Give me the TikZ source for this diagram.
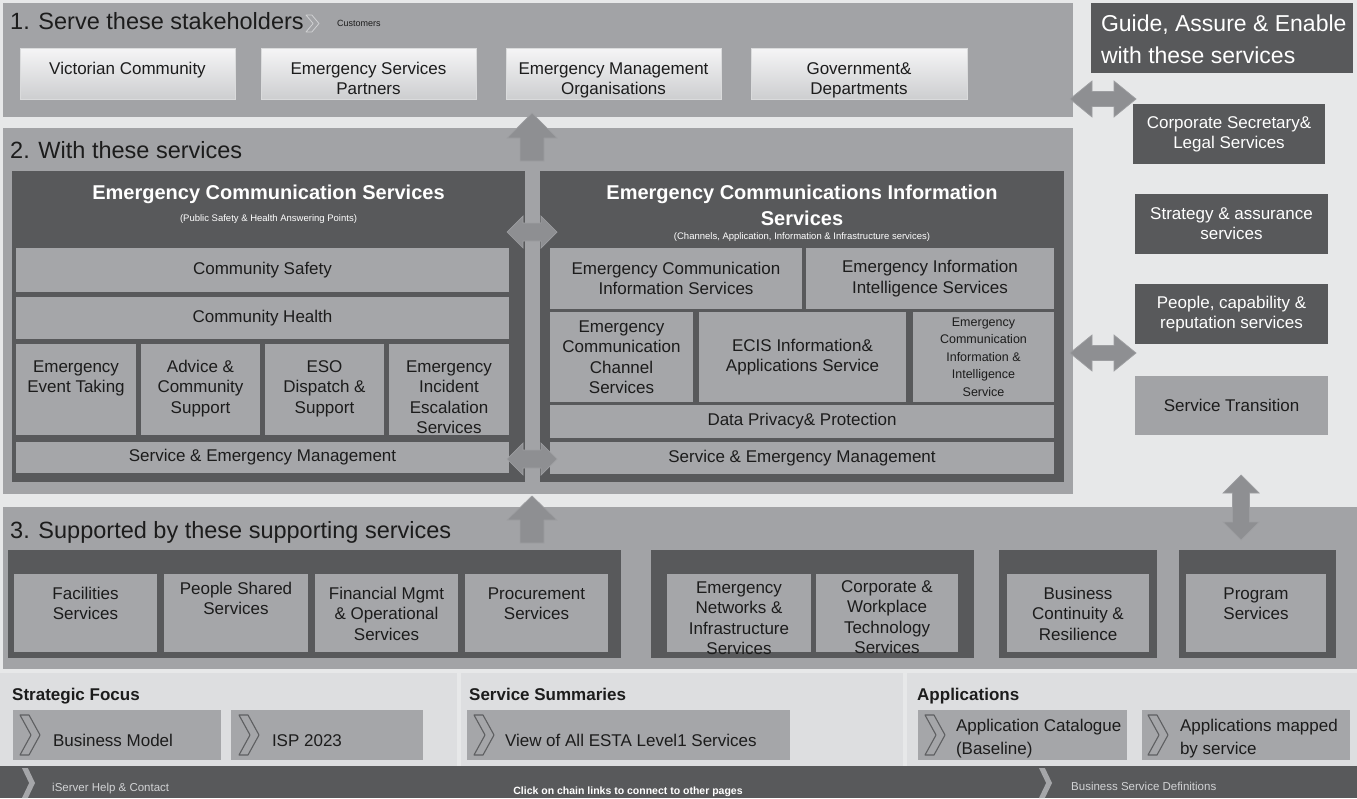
\documentclass[tikz,border=0pt]{standalone}
\usepackage{fontspec}
\setmainfont{Liberation Sans}
\definecolor{bg}{HTML}{E7E8E9}
\definecolor{sec}{HTML}{A2A3A6}
\definecolor{dk}{HTML}{58595B}
\definecolor{inn}{HTML}{A5A6A9}
\definecolor{arr}{HTML}{8E8F92}
\definecolor{arrE}{HTML}{9D9EA1}
\definecolor{band}{HTML}{DDDEE0}
\definecolor{txt}{HTML}{1C1C1C}
\definecolor{stkT}{HTML}{F5F5F6}
\definecolor{stkB}{HTML}{CDCED0}
\definecolor{stkE}{HTML}{DADBDC}
\definecolor{chevD}{HTML}{5E5F61}
\definecolor{chevL}{HTML}{D0D1D3}
\definecolor{ftxt}{HTML}{D2D3D5}
\newcommand\fs[2]{\fontsize{#1}{#2}\selectfont}
\newcommand\bxe[6]{%
  \pgfmathsetmacro\bxw{#5-#3}\pgfmathsetmacro\bxh{#6-#4}%
  \pgfmathsetmacro\bxx{(#3+#5)/2}\pgfmathsetmacro\bxy{(#4+#6)/2}%
  \node[inner sep=0pt,minimum width=\bxw pt,minimum height=\bxh pt,#1] (#2) at (\bxx,\bxy) {};}
\newcommand\bxc[7]{%
  \pgfmathsetmacro\bxw{#5-#3}\pgfmathsetmacro\bxh{#6-#4}%
  \pgfmathsetmacro\bxx{(#3+#5)/2}\pgfmathsetmacro\bxy{(#4+#6)/2}%
  \node[inner sep=0pt,#1] (#2) at (\bxx,\bxy) {\parbox[c][\bxh pt][c]{\bxw pt}{\centering #7}};}
\newcommand\bxt[8]{%
  \pgfmathsetmacro\bxw{#5-#3}\pgfmathsetmacro\bxh{#6-#4}%
  \pgfmathsetmacro\bxx{(#3+#5)/2}\pgfmathsetmacro\bxy{(#4+#6)/2}%
  \node[inner sep=0pt,#1] (#2) at (\bxx,\bxy) {\parbox[c][\bxh pt][t]{\bxw pt}{\centering\vspace*{#7pt}\strut #8}};}
\newcommand\bxl[9]{%
  \pgfmathsetmacro\bxw{#5-#3}\pgfmathsetmacro\bxh{#6-#4}%
  \pgfmathsetmacro\bxx{(#3+#5)/2}\pgfmathsetmacro\bxy{(#4+#6)/2}%
  \node[inner sep=0pt,#1] (#2) at (\bxx,\bxy) {\parbox[c][\bxh pt][t]{\bxw pt}{\raggedright\leftskip=#7pt\relax\vspace*{#8pt}\strut #9}};}
\newcommand\chev[5]{%
  \pgfmathsetmacro\cva{#2+0.45*#4}\pgfmathsetmacro\cvb{#2+#4}\pgfmathsetmacro\cvc{#3+#5/2}%
  \pgfmathsetmacro\cvd{#3+#5}\pgfmathsetmacro\cve{#2+0.55*#4}%
  \path[#1] (#2,#3) -- (\cva,#3) -- (\cvb,\cvc) -- (\cva,\cvd) -- (#2,\cvd) -- (\cve,\cvc) -- cycle;}
\tikzset{
  secfill/.style={fill=sec},
  dkfill/.style={fill=dk},
  bandfill/.style={fill=band},
  stk/.style={top color=stkT, bottom color=stkB, draw=stkE, line width=0.6pt, text=txt, font=\fs{17}{20.5}},
  ib/.style={fill=inn, text=txt, font=\fs{17}{20.5}},
  ibs/.style={fill=inn, text=txt, font=\fs{12.5}{17.5}},
  wb/.style={fill=dk, text=white, font=\fs{17}{20}},
  gb/.style={fill=sec, text=txt, font=\fs{17}{20}},
  lnk/.style={fill=inn, text=txt, font=\fs{17}{23}},
  guide/.style={fill=dk, text=white, font=\fs{23}{32}},
  sectitle/.style={anchor=base west, inner sep=0pt, text=txt, font=\fs{23.5}{27}},
  ptitle/.style={text=white, inner sep=0pt, font=\bfseries\fs{20}{26}, align=center},
  psub/.style={text=white, inner sep=0pt, font=\fs{9.5}{11}},
  bandhead/.style={anchor=base west, inner sep=0pt, text=txt, font=\bfseries\fs{17}{20}},
  foot/.style={anchor=base west, inner sep=0pt, text=ftxt, font=\fs{11.5}{13}},
  blk/.style={fill=arr, draw=arrE, line width=0.7pt, line join=miter},
  chevo/.style={draw=chevD, fill=inn, line width=1.1pt, line join=round},
  chevs/.style={draw=chevL, fill=sec, line width=0.8pt, line join=round},
  chevf/.style={fill=inn},
}
\begin{document}
\begin{tikzpicture}[x=1pt,y=-1pt]
\useasboundingbox (0,0) rectangle (1357,798);
\fill[bg] (0,0) rectangle (1357,798);
% ---------- section 1
\bxe{secfill}{s1}{3}{3}{1073}{117}
\node[sectitle] (t1) at (10,29.5) {1. Serve these stakeholders};
\chev{chevs}{306}{15}{13}{17}
\node[anchor=base west, inner sep=0pt, text=txt, font=\fs{9}{10}] (cust) at (337,26) {Customers};
\bxt{stk}{vc}{20}{48}{235}{99}{11.7}{Victorian Community}
\bxt{stk}{esp}{261}{48}{476}{99}{11.7}{Emergency Services\\Partners}
\bxt{stk}{emo}{506}{48}{721}{99}{11.7}{Emergency Management\\Organisations}
\bxt{stk}{gd}{751}{48}{967}{99}{11.7}{Government\&\\Departments}
% ---------- section 2
\bxe{secfill}{s2}{3}{128}{1073}{494}
\node[sectitle] (t2) at (10,158.5) {2. With these services};
\bxe{dkfill}{ecs}{12}{171}{525}{482}
\bxe{dkfill}{ecis}{540}{171}{1064}{482}
\node[ptitle] (ecsT) at (268.5,194) {Emergency Communication Services};
\node[psub] (ecsS) at (268.5,219) {(Public Safety \& Health Answering Points)};
\node[ptitle] (ecisT) at (802,205) {Emergency Communications Information\\Services};
\node[psub] (ecisS) at (802,237.5) {(Channels, Application, Information \& Infrastructure services)};
\bxc{ib}{cs}{16}{248}{509}{292}{Community Safety}
\bxc{ib}{ch}{16}{297}{509}{339}{Community Health}
\bxt{ib}{eet}{16}{344}{136}{435}{13.7}{Emergency\\Event Taking}
\bxt{ib}{acs}{141}{344}{260}{435}{13.7}{Advice \&\\Community\\Support}
\bxt{ib}{eso}{265}{344}{384}{435}{13.7}{ESO\\Dispatch \&\\Support}
\bxt{ib}{eie}{389}{344}{509}{435}{13.7}{Emergency\\Incident\\Escalation\\Services}
\bxc{ib}{seml}{16}{442}{509}{473}{Service \& Emergency Management}
\bxc{ib}{r1a}{550}{248}{802}{309}{Emergency Communication\\Information Services}
\bxc{ib}{r1b}{806}{248}{1054}{309}{Emergency Information\\Intelligence Services}
\bxc{ib}{r2a}{550}{312}{693}{402}{Emergency\\Communication\\Channel\\Services}
\bxc{ib}{r2b}{699}{312}{906}{402}{ECIS Information\&\\Applications Service}
\bxc{ibs}{r2c}{913}{312}{1054}{402}{Emergency\\Communication\\Information \&\\Intelligence\\Service}
\bxc{ib}{dpp}{550}{405}{1054}{438}{Data Privacy\& Protection}
\bxc{ib}{semr}{550}{442}{1054}{474}{Service \& Emergency Management}
% arrows in section 2
\path[blk] (532,113) -- (557,138) -- (544,138) -- (544,161) -- (520,161) -- (520,138) -- (507,138) -- cycle;
\path[blk] (507,232) -- (523,216) -- (523,223) -- (541,223) -- (541,216) -- (557,232) -- (541,248) -- (541,241) -- (523,241) -- (523,248) -- cycle;
\path[blk] (507,459) -- (523,443) -- (523,450) -- (541,450) -- (541,443) -- (557,459) -- (541,475) -- (541,468) -- (523,468) -- (523,475) -- cycle;
% ---------- right column
\bxl{guide}{gae}{1091}{3}{1353}{73}{10}{5.8}{Guide, Assure \& Enable\\with these services}
\bxc{wb}{csl}{1133}{104}{1325}{164}{Corporate Secretary\&\\Legal Services}
\bxc{wb}{sas}{1135}{194}{1328}{254}{Strategy \& assurance\\services}
\bxc{wb}{pcr}{1135}{284}{1328}{344}{People, capability \&\\reputation services}
\bxc{gb}{stn}{1135}{376}{1328}{435}{Service Transition}
\path[blk] (1070,99) -- (1092,81) -- (1092,91.5) -- (1114,91.5) -- (1114,81) -- (1136,99) -- (1114,117) -- (1114,106.5) -- (1092,106.5) -- (1092,117) -- cycle;
\path[blk] (1070,353) -- (1092,335) -- (1092,345.5) -- (1114,345.5) -- (1114,335) -- (1136,353) -- (1114,371) -- (1114,360.5) -- (1092,360.5) -- (1092,371) -- cycle;
% ---------- section 3
\bxe{secfill}{s3}{3}{507}{1357}{669}
\node[sectitle] (t3) at (10,538.5) {3. Supported by these supporting services};
\path[blk] (532,496) -- (557,520) -- (544,520) -- (544,543) -- (520,543) -- (520,520) -- (507,520) -- cycle;
\path[blk] (1241,475) -- (1259,493) -- (1249.5,493) -- (1249.5,522) -- (1259,522) -- (1241,540) -- (1223,522) -- (1232.5,522) -- (1232.5,493) -- (1223,493) -- cycle;
\bxe{dkfill}{ga}{8}{550}{621}{658}
\bxe{dkfill}{gbx}{651}{550}{974}{658}
\bxe{dkfill}{gc}{999}{550}{1157}{658}
\bxe{dkfill}{gdx}{1179}{550}{1336}{658}
\bxt{ib}{fac}{14}{574}{157}{652}{10.7}{Facilities\\Services}
\bxt{ib}{pss}{164}{574}{308}{652}{5.7}{People Shared\\Services}
\bxt{ib}{fmo}{315}{574}{458}{652}{10.7}{Financial Mgmt\\\& Operational\\Services}
\bxt{ib}{prc}{465}{574}{608}{652}{10.7}{Procurement\\Services}
\bxt{ib}{eni}{667}{574}{811}{652}{4.7}{Emergency\\Networks \&\\Infrastructure\\Services}
\bxt{ib}{cwt}{816}{574}{958}{652}{3.7}{Corporate \&\\Workplace\\Technology\\Services}
\bxt{ib}{bcr}{1007}{574}{1149}{652}{10.7}{Business\\Continuity \&\\Resilience}
\bxt{ib}{prg}{1186}{574}{1326}{652}{10.7}{Program\\Services}
% ---------- bottom band
\bxe{bandfill}{p1}{0}{673}{457}{766}
\bxe{bandfill}{p2}{461}{673}{903}{766}
\bxe{bandfill}{p3}{907}{673}{1357}{766}
\node[bandhead] (h1) at (12,700) {Strategic Focus};
\node[bandhead] (h2) at (469,700) {Service Summaries};
\node[bandhead] (h3) at (917,700) {Applications};
\bxl{lnk}{bm}{13}{710}{221}{760}{40}{19.9}{Business Model}
\bxl{lnk}{isp}{231}{710}{423}{760}{41}{19.9}{ISP 2023}
\bxl{lnk}{view}{467}{710}{790}{760}{38}{19.9}{View of All ESTA Level1 Services}
\bxl{lnk}{appc}{918}{710}{1127}{760}{38}{4.9}{Application Catalogue\\(Baseline)}
\bxl{lnk}{appm}{1142}{710}{1350}{760}{38}{4.9}{Applications mapped\\by service}
\chev{chevo}{20}{715}{20}{40}
\chev{chevo}{239}{715}{20}{40}
\chev{chevo}{474}{715}{20}{40}
\chev{chevo}{925}{715}{20}{40}
\chev{chevo}{1148}{715}{20}{40}
% ---------- footer
\bxe{dkfill}{ft}{0}{766}{1357}{798}
\chev{chevf}{22}{768}{13}{30}
\chev{chevf}{1039}{768}{13}{30}
\node[foot] (help) at (52,791) {iServer Help \& Contact};
\node[anchor=base, inner sep=0pt, text=white, font=\bfseries\fs{10.5}{12}] (click) at (628,794.5) {Click on chain links to connect to other pages};
\node[foot] (bsd) at (1071,790) {Business Service Definitions};
\end{tikzpicture}
\end{document}
